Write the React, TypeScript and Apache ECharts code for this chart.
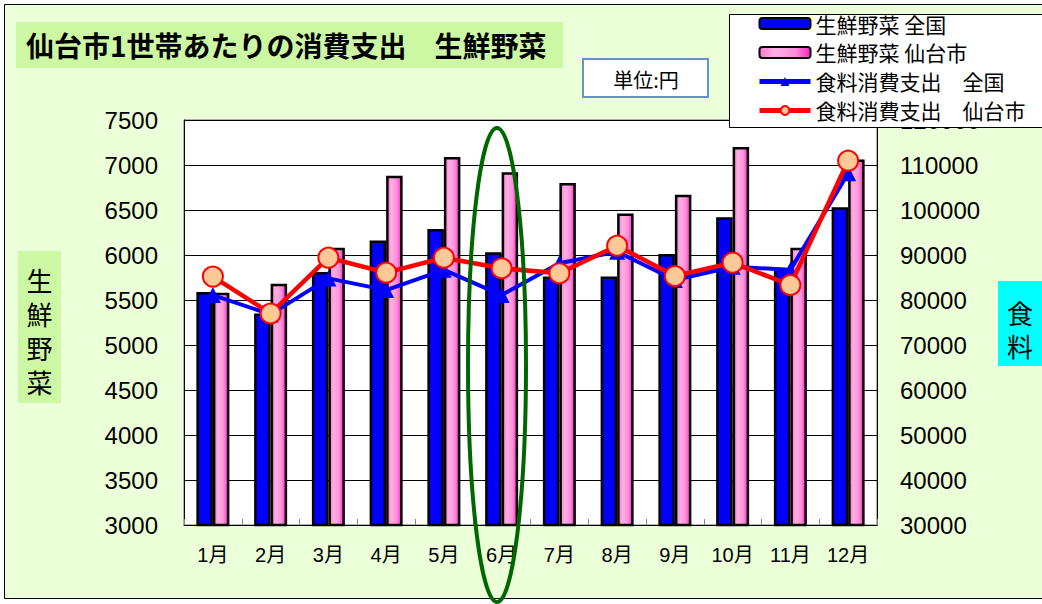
import React, { useEffect, useRef } from "react";
import * as echarts from "echarts";

const categories = ["1月", "2月", "3月", "4月", "5月", "6月", "7月", "8月", "9月", "10月", "11月", "12月"];
const vegNational = [5590, 5350, 5810, 6160, 6290, 6030, 5760, 5760, 6010, 6420, 5850, 6530];
const vegSendai = [5580, 5680, 6080, 6880, 7090, 6920, 6800, 6460, 6670, 7200, 6080, 7060];
const foodNational = [81100, 76800, 84800, 82200, 86700, 81100, 88150, 90740, 84440, 87400, 86700, 108150];
const foodSendai = [85200, 77000, 89400, 86070, 89400, 87040, 85930, 92070, 85330, 88300, 83330, 110960];

const seriesNames = ["生鮮野菜 全国", "生鮮野菜 仙台市", "食料消費支出　全国", "食料消費支出　仙台市"];
const titleText = "仙台市1世帯あたりの消費支出　生鮮野菜";
const unitText = "単位:円";
const leftName = "生\n鮮\n野\n菜";
const rightNameChars = ["食", "料"];

const JP = "'Noto Sans CJK JP', sans-serif";
const NUM = "'Liberation Sans', 'Noto Sans CJK JP', sans-serif";

export default function App() {
  const ref = useRef<HTMLDivElement>(null);
  useEffect(() => {
    if (!ref.current) return;
    const chart = echarts.init(ref.current, null, { renderer: "svg" });
    const pink = new echarts.graphic.LinearGradient(0, 0, 1, 0, [
      { offset: 0, color: "#ff77d2" },
      { offset: 0.3, color: "#ffb0e4" },
      { offset: 0.7, color: "#ff8ed8" },
      { offset: 1, color: "#ff22cc" },
    ]);
    const plain = (v: number) => String(v);
    chart.setOption({
      animation: false,
      backgroundColor: "#ebffd9",
      textStyle: { fontFamily: JP },
      grid: {
        left: 184,
        right: 165,
        top: 120,
        bottom: 79,
        show: true,
        backgroundColor: "#ffffff",
        borderColor: "#666",
        borderWidth: 1,
      },
      legend: {
        orient: "vertical",
        left: 752,
        top: 8,
        itemWidth: 51,
        itemHeight: 11,
        itemGap: 8,
        z: 60,
        textStyle: { fontSize: 21, color: "#000", fontFamily: JP },
        data: [
          { name: seriesNames[0], icon: "roundRect" },
          { name: seriesNames[1], icon: "roundRect" },
          { name: seriesNames[2], lineStyle: { width: 5, color: "#0000ff" } },
          { name: seriesNames[3], lineStyle: { width: 5, color: "#ff0000" } },
        ],
      },
      xAxis: {
        type: "category",
        data: categories,
        axisLine: { show: true, lineStyle: { color: "#000", width: 1 } },
        axisTick: { show: true, inside: true, length: 6, lineStyle: { color: "#888" } },
        axisLabel: { color: "#000", fontSize: 20, margin: 20, fontFamily: NUM },
      },
      yAxis: [
        {
          type: "value",
          min: 3000,
          max: 7500,
          interval: 500,
          axisLine: { show: true, lineStyle: { color: "#000" } },
          axisTick: { show: false },
          splitLine: { show: true, lineStyle: { color: "#000", width: 1 } },
          axisLabel: { color: "#000", fontSize: 24, margin: 26, fontFamily: NUM, formatter: plain },
        },
        {
          type: "value",
          min: 30000,
          max: 120000,
          interval: 10000,
          position: "right",
          axisLine: { show: true, lineStyle: { color: "#000" } },
          axisTick: { show: true, inside: true, length: 5, lineStyle: { color: "#000" } },
          splitLine: { show: false },
          axisLabel: { color: "#000", fontSize: 24, margin: 23, fontFamily: NUM, formatter: plain },
        },
      ],
      series: [
        {
          name: seriesNames[0],
          type: "bar",
          data: vegNational,
          barWidth: 16.5,
          barGap: "0%",
          itemStyle: { color: "#0000ff", borderColor: "#000", borderWidth: 2.5 },
        },
        {
          name: seriesNames[1],
          type: "bar",
          data: vegSendai,
          barWidth: 16.5,
          barGap: "0%",
          itemStyle: { color: pink, borderColor: "#000", borderWidth: 2.5 },
        },
        {
          name: seriesNames[2],
          type: "line",
          yAxisIndex: 1,
          data: foodNational,
          symbol: "triangle",
          symbolSize: 16,
          lineStyle: { color: "#0000ff", width: 4 },
          itemStyle: { color: "#0000ff" },
          z: 3,
        },
        {
          name: seriesNames[3],
          type: "line",
          yAxisIndex: 1,
          data: foodSendai,
          symbol: "circle",
          symbolSize: 20,
          lineStyle: { color: "#ff0000", width: 4.5 },
          itemStyle: { color: "#ffc896", borderColor: "#ff0000", borderWidth: 2 },
          z: 4,
        },
      ],
      graphic: [
        { type: "rect", z: 40, silent: true, shape: { x: 0, y: 0, width: 1042, height: 4 }, style: { fill: "#fff" } },
        { type: "rect", z: 40, silent: true, shape: { x: 0, y: 0, width: 4, height: 604 }, style: { fill: "#fff" } },
        { type: "rect", z: 40, silent: true, shape: { x: 0, y: 599, width: 1042, height: 5 }, style: { fill: "#fff" } },
        { type: "rect", z: 41, silent: true, shape: { x: 4.5, y: 4.5, width: 1060, height: 594 }, style: { fill: "none", stroke: "#000", lineWidth: 1 } },
        { type: "rect", z: 42, silent: true, shape: { x: 16, y: 22, width: 547, height: 46 }, style: { fill: "#ccf7a3" } },
        {
          type: "text", z: 43, silent: true, x: 26, y: 45,
          style: { text: titleText, fill: "#000", font: `bold 28px ${JP}`, verticalAlign: "middle", align: "left" },
        },
        { type: "rect", z: 42, silent: true, shape: { x: 583, y: 59, width: 125, height: 38 }, style: { fill: "#fff", stroke: "#6a8fd0", lineWidth: 2 } },
        {
          type: "text", z: 43, silent: true, x: 646, y: 79,
          style: { text: unitText, fill: "#000", font: `20px ${JP}`, verticalAlign: "middle", align: "center" },
        },
        { type: "rect", z: 42, silent: true, shape: { x: 18, y: 251, width: 43, height: 152 }, style: { fill: "#ccf7a3" } },
        {
          type: "text", z: 43, silent: true, x: 39.5, y: 330,
          style: { text: leftName, fill: "#000", font: `26px ${JP}`, lineHeight: 34, verticalAlign: "middle", align: "center" },
        },
        { type: "rect", z: 42, silent: true, shape: { x: 998, y: 281, width: 44, height: 85 }, style: { fill: "#00ffff" } },
        ...rightNameChars.map((ch, i) => ({
          type: "text", z: 43, silent: true, x: 1020, y: 312 + i * 33,
          style: { text: ch, fill: "#000", font: `26px ${JP}`, verticalAlign: "middle", align: "center" },
        })),
        { type: "rect", z: 50, silent: true, shape: { x: 729.5, y: 14.5, width: 330, height: 113 }, style: { fill: "#fff", stroke: "#000", lineWidth: 1 } },
        {
          type: "ellipse", z: 100, silent: true,
          shape: { cx: 497, cy: 365, rx: 29, ry: 237 },
          style: { fill: "none", stroke: "#006600", lineWidth: 4 },
        },
      ],
    });
    return () => chart.dispose();
  }, []);
  return <div ref={ref} style={{ position: "absolute", left: 0, top: 0, width: 1042, height: 604 }} />;
}
